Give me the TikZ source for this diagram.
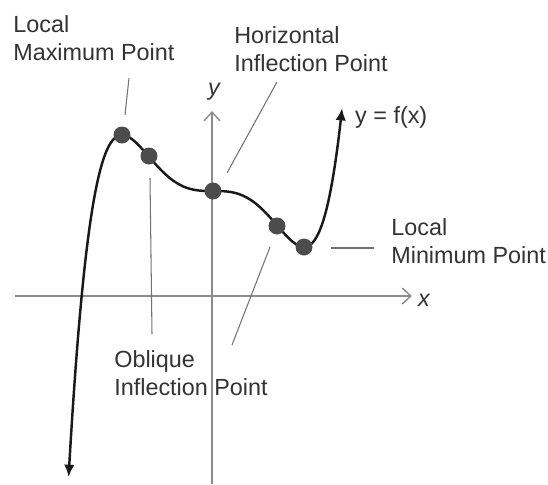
\documentclass[tikz,border=0pt]{standalone}
\usepackage{fontspec}
\setmainfont{Liberation Sans}
\usetikzlibrary{arrows.meta}
\begin{document}
\begin{tikzpicture}[x=0.02cm,y=-0.02cm,
  lbl/.style={anchor=north west,align=left,inner sep=0pt,text=black!80,font=\fontsize{13.3}{15.9}\selectfont},
  dot/.style={circle,fill=black!70,inner sep=0pt,minimum size=0.34cm},
  lead/.style={black!55,line width=0.6pt},
  axis/.style={black!45,line width=0.8pt,-{Straight Barb[length=5pt,width=9pt]}}]
  \useasboundingbox (0,0) rectangle (548,484);
  % axes
  \coordinate (xs) at (15,296);  \coordinate (xe) at (412,296);
  \coordinate (ys) at (212,484); \coordinate (ye) at (212,111);
  \draw[axis] (xs) -- (xe);
  \draw[axis] (ys) -- (ye);
  \node[text=black!80,font=\fontsize{13.3}{15.9}\selectfont\itshape] (xlbl) at (424,300) {x};
  \node[text=black!80,font=\fontsize{13.3}{15.9}\selectfont\itshape] (ylbl) at (214,92) {y};
  % the curve
  \draw[black!90,line width=1.4pt,{Latex[length=7pt,width=6pt]}-{Latex[length=7pt,width=6pt]}]
    plot[domain=-1.587:1.419,samples=150,smooth]
    ({213+91*\x},{191-420*(\x*\x*\x*\x*\x/5-\x*\x*\x/3)});
  \node[text=black!80,font=\fontsize{13.3}{15.9}\selectfont,anchor=west] (fx) at (349,117) {y = f(x)};
  % points
  \node[dot] (maxpt) at (122,135) {};
  \node[dot] (oblA)  at (149,156) {};
  \node[dot] (horpt) at (213,191) {};
  \node[dot] (oblB)  at (277,226) {};
  \node[dot] (minpt) at (304,247) {};
  % labels
  \node[lbl] (maxlbl) at (13,15)  {Local\\Maximum Point};
  \node[lbl] (horlbl) at (234,26) {Horizontal\\Inflection Point};
  \node[lbl] (minlbl) at (391,218) {Local\\Minimum Point};
  \node[lbl] (obllbl) at (114,350) {Oblique\\Inflection Point};
  % leaders
  \coordinate (m1) at (129,78);  \coordinate (m2) at (125,115);
  \coordinate (h1) at (277,82);  \coordinate (h2) at (227,173);
  \coordinate (a1) at (150,178); \coordinate (a2) at (152,334);
  \coordinate (b1) at (270,247); \coordinate (b2) at (232,345);
  \coordinate (n1) at (331,248); \coordinate (n2) at (374,248);
  \draw[lead] (m1) -- (m2);
  \draw[lead] (h1) -- (h2);
  \draw[lead] (a1) -- (a2);
  \draw[lead] (b1) -- (b2);
  \draw[lead] (n1) -- (n2);
\end{tikzpicture}
\end{document}
